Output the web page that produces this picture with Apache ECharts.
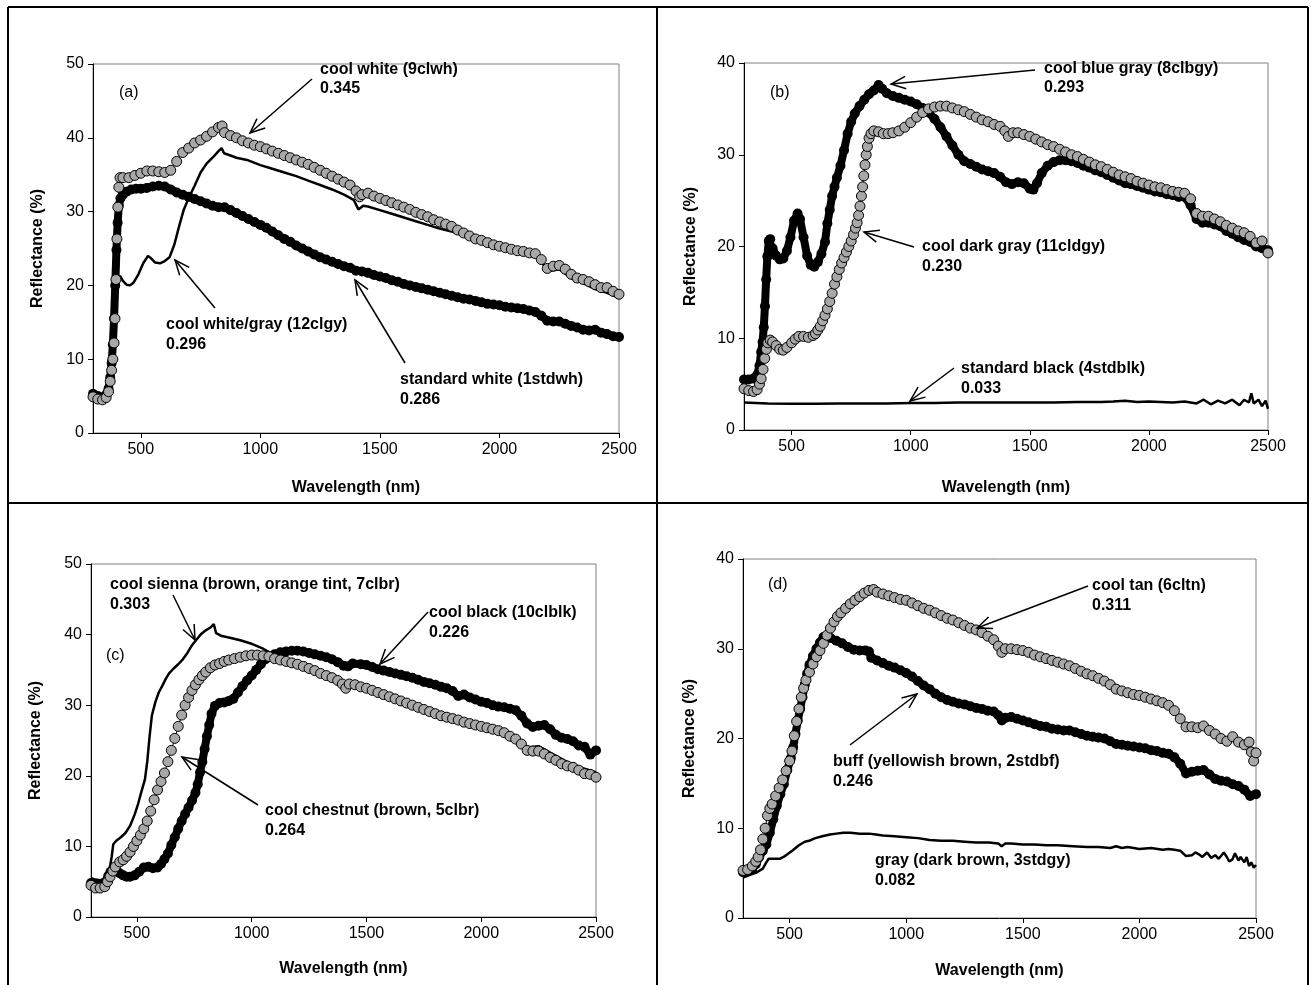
<!DOCTYPE html>
<html>
<head>
<meta charset="utf-8">
<script src="https://cdn.jsdelivr.net/npm/echarts@6/dist/echarts.min.js"></script>
<style>
  html, body { margin: 0; padding: 0; background: #fff; }
  #chart { width: 1311px; height: 985px; }
</style>
</head>
<body>
<div id="chart"></div>
<script>
// tick labels
var xTicks = [500, 1000, 1500, 2000, 2500];

// (a) white panel
var coolWhite = [[300,4.9],[320,4.6],[340,4.5],[355,4.8],[365,5.6],[372,7.0],[378,8.5],[383,10.0],[388,12.2],[392,15.5],[396,20.8],[400,26.3],[404,30.6],[408,33.3],[413,34.6],[425,34.6],[450,34.6],[475,34.9],[500,35.2],[525,35.5],[550,35.5],[575,35.4],[600,35.3],[625,35.6],[650,36.8],[675,38.0],[700,38.6],[725,39.3],[750,39.7],[775,40.2],[800,40.8],[825,41.4],[840,41.6],[850,40.7],[875,40.3],[900,40.0],[925,39.6],[950,39.3],[975,39.0],[1000,38.8],[1025,38.5],[1050,38.2],[1075,37.9],[1100,37.6],[1125,37.3],[1150,37.0],[1175,36.7],[1200,36.4],[1225,36.0],[1250,35.6],[1275,35.2],[1300,34.8],[1325,34.4],[1350,34.0],[1375,33.6],[1400,32.8],[1415,32.0],[1425,32.3],[1450,32.5],[1475,32.1],[1500,31.8],[1525,31.5],[1550,31.2],[1575,30.9],[1600,30.6],[1625,30.3],[1650,29.9],[1675,29.6],[1700,29.3],[1725,28.9],[1750,28.6],[1775,28.3],[1800,28.0],[1825,27.5],[1850,27.1],[1875,26.7],[1900,26.3],[1925,26.1],[1950,25.8],[1975,25.5],[2000,25.3],[2025,25.1],[2050,24.9],[2075,24.7],[2100,24.6],[2125,24.4],[2150,24.3],[2175,23.5],[2200,22.3],[2225,22.6],[2250,22.7],[2275,22.2],[2300,21.5],[2325,21.0],[2350,20.8],[2375,20.5],[2400,20.1],[2425,19.7],[2450,19.7],[2475,19.2],[2500,18.8]];
var coolWhiteGray = [[300,5.6],[320,5.2],[340,5.0],[355,5.3],[365,6.3],[375,9.0],[382,11.8],[388,15.5],[393,19.5],[398,20.5],[405,21.0],[413,21.3],[425,20.6],[440,20.1],[455,20.0],[470,20.4],[490,21.5],[510,23.0],[530,24.0],[545,23.6],[560,23.1],[580,23.0],[600,23.3],[620,23.8],[640,25.5],[660,28.0],[680,30.3],[700,31.8],[725,33.5],[750,35.3],[775,36.5],[800,37.3],[825,38.2],[838,38.6],[848,37.9],[875,37.6],[900,37.3],[944,37.0],[1000,36.3],[1050,35.8],[1100,35.3],[1150,34.8],[1200,34.2],[1250,33.6],[1300,33.0],[1350,32.3],[1390,31.6],[1410,30.3],[1430,30.8],[1450,30.7],[1500,30.2],[1550,29.7],[1600,29.2],[1650,28.7],[1700,28.2],[1750,27.7],[1800,27.3],[1850,26.9],[1900,26.2],[1950,25.7],[2000,25.2],[2050,24.8],[2100,24.4],[2150,24.0],[2180,23.0],[2200,21.9],[2250,22.2],[2300,21.0],[2350,20.3],[2400,19.5],[2450,19.0],[2500,18.3]];
var standardWhite = [[300,5.3],[320,5.0],[340,4.8],[355,5.2],[365,6.0],[372,7.5],[378,9.5],[383,12.0],[388,15.5],[393,20.0],[398,24.8],[403,28.5],[408,30.8],[415,31.8],[425,32.3],[440,32.7],[460,33.0],[480,33.1],[500,33.1],[525,33.2],[550,33.4],[575,33.5],[600,33.4],[625,33.0],[650,32.6],[675,32.3],[700,32.0],[725,31.7],[750,31.4],[775,31.1],[800,30.8],[825,30.6],[850,30.6],[875,30.2],[900,29.8],[925,29.4],[950,29.0],[975,28.6],[1000,28.2],[1025,27.8],[1050,27.3],[1075,26.8],[1100,26.3],[1125,25.9],[1150,25.4],[1175,25.0],[1200,24.6],[1225,24.2],[1250,23.8],[1275,23.5],[1300,23.2],[1325,22.9],[1350,22.6],[1375,22.4],[1400,22.0],[1425,21.9],[1450,21.7],[1475,21.4],[1500,21.2],[1525,21.0],[1550,20.7],[1575,20.5],[1600,20.2],[1625,20.0],[1650,19.8],[1675,19.6],[1700,19.4],[1725,19.2],[1750,19.0],[1775,18.8],[1800,18.6],[1825,18.4],[1850,18.2],[1875,18.1],[1900,17.9],[1925,17.7],[1950,17.5],[1975,17.4],[2000,17.3],[2025,17.1],[2050,17.0],[2075,16.9],[2100,16.8],[2125,16.6],[2150,16.4],[2175,15.9],[2200,15.2],[2225,15.1],[2250,15.1],[2275,14.8],[2300,14.5],[2325,14.3],[2350,14.0],[2375,13.9],[2400,14.0],[2425,13.6],[2450,13.4],[2475,13.1],[2500,13.0]];

// (b) gray / black panel
var coolBlueGray = [[300,5.5],[320,5.5],[340,5.6],[355,6.0],[365,7.0],[372,8.5],[378,9.6],[383,11.2],[388,13.5],[393,16.4],[398,18.9],[404,20.6],[410,20.8],[420,19.8],[435,19.0],[450,18.6],[465,18.7],[480,19.5],[495,21.0],[510,22.8],[525,23.6],[535,23.0],[550,21.0],[565,19.0],[580,18.0],[595,17.8],[610,18.3],[625,19.2],[640,20.5],[650,22.5],[660,24.0],[670,25.5],[680,26.5],[690,27.5],[705,28.8],[720,30.5],[735,32.3],[750,33.6],[765,34.5],[785,35.3],[805,36.0],[825,36.6],[845,37.0],[865,37.6],[880,37.2],[900,36.7],[925,36.4],[950,36.2],[975,36.0],[1000,35.8],[1025,35.5],[1050,35.1],[1075,34.6],[1100,33.9],[1125,33.0],[1150,32.0],[1175,31.0],[1200,30.0],[1225,29.3],[1250,29.0],[1275,28.7],[1300,28.4],[1325,28.2],[1350,28.0],[1375,27.6],[1400,27.0],[1425,26.8],[1450,27.0],[1475,26.9],[1500,26.3],[1515,26.2],[1530,26.9],[1550,28.0],[1575,28.8],[1600,29.2],[1625,29.4],[1650,29.4],[1675,29.3],[1700,29.1],[1725,28.8],[1750,28.6],[1775,28.3],[1800,28.1],[1825,27.8],[1850,27.5],[1875,27.2],[1900,26.9],[1925,26.8],[1950,26.6],[1975,26.4],[2000,26.2],[2025,26.0],[2050,25.9],[2075,25.7],[2100,25.6],[2125,25.4],[2150,25.4],[2175,24.5],[2200,23.0],[2225,22.6],[2250,22.6],[2275,22.4],[2300,22.2],[2325,21.7],[2350,21.4],[2375,21.0],[2400,20.7],[2425,20.5],[2450,20.0],[2475,19.8],[2500,19.6]];
var coolDarkGray = [[300,4.5],[320,4.3],[340,4.2],[355,4.4],[365,5.0],[372,5.6],[380,6.6],[387,7.8],[394,8.8],[400,9.5],[410,9.8],[420,9.6],[435,9.2],[450,8.8],[465,8.7],[480,9.0],[500,9.5],[515,9.9],[530,10.2],[550,10.2],[570,10.1],[590,10.3],[600,10.5],[610,10.9],[620,11.3],[630,11.9],[640,12.5],[650,13.2],[660,14.0],[670,14.9],[680,15.9],[690,16.7],[700,17.5],[710,18.2],[720,18.8],[730,19.4],[740,20.0],[750,20.6],[760,21.3],[768,22.0],[775,22.6],[781,23.4],[787,24.4],[793,25.5],[798,26.5],[803,27.7],[808,28.9],[813,30.0],[818,30.9],[825,31.8],[833,32.3],[845,32.6],[865,32.5],[885,32.3],[905,32.3],[925,32.4],[950,32.6],[975,33.0],[1000,33.5],[1025,34.1],[1050,34.6],[1075,35.0],[1100,35.2],[1125,35.3],[1150,35.3],[1175,35.1],[1200,34.9],[1225,34.7],[1250,34.4],[1275,34.1],[1300,33.8],[1325,33.6],[1350,33.3],[1375,33.1],[1395,32.6],[1410,32.0],[1430,32.4],[1450,32.4],[1475,32.2],[1500,32.0],[1525,31.7],[1550,31.4],[1575,31.1],[1600,30.9],[1625,30.6],[1650,30.3],[1675,30.0],[1700,29.8],[1725,29.5],[1750,29.2],[1775,28.9],[1800,28.7],[1825,28.4],[1850,28.1],[1875,27.8],[1900,27.6],[1925,27.4],[1950,27.1],[1975,26.9],[2000,26.7],[2025,26.5],[2050,26.4],[2075,26.2],[2100,26.0],[2125,25.9],[2150,25.8],[2175,25.2],[2200,23.6],[2225,23.3],[2250,23.3],[2275,23.0],[2300,22.7],[2325,22.3],[2350,22.0],[2375,21.7],[2400,21.5],[2425,21.1],[2450,20.4],[2475,20.6],[2500,19.3]];
var standardBlack = [[300,3.0],[400,2.9],[500,2.85],[600,2.85],[700,2.9],[800,2.9],[900,2.9],[1000,2.95],[1100,2.95],[1200,3.0],[1300,3.0],[1400,3.0],[1500,3.0],[1600,3.0],[1700,3.05],[1800,3.05],[1850,3.1],[1900,3.2],[1950,3.05],[2000,3.1],[2050,3.05],[2100,3.0],[2150,3.1],[2200,2.9],[2230,3.3],[2260,2.8],[2290,3.2],[2320,2.9],[2350,3.3],[2380,2.7],[2400,3.3],[2420,3.0],[2430,4.0],[2440,2.9],[2460,3.3],[2475,2.6],[2490,3.2],[2500,2.3]];

// (c) brown panel
var coolSienna = [[300,5.5],[320,5.3],[340,5.2],[355,5.3],[370,6.0],[382,7.0],[390,8.5],[397,10.3],[410,10.8],[430,11.3],[450,11.9],[470,12.9],[490,14.5],[505,16.0],[520,17.8],[535,19.5],[545,22.0],[555,25.5],[565,28.5],[580,30.4],[595,31.8],[610,32.7],[625,33.7],[640,34.5],[660,35.2],[680,35.8],[700,36.5],[720,37.4],[740,38.5],[760,39.3],[780,40.1],[800,40.6],[820,41.0],[835,41.5],[845,40.2],[870,39.8],[900,39.6],[950,39.2],[1000,38.7],[1050,38.0],[1100,37.1],[1150,36.4],[1200,35.8],[1250,35.1],[1300,34.4],[1350,33.8],[1390,33.2],[1410,32.6],[1430,33.2],[1500,32.6],[1550,32.0],[1600,31.4],[1650,30.9],[1700,30.3],[1750,29.7],[1800,29.1],[1850,28.5],[1900,28.0],[1950,27.6],[2000,27.1],[2050,26.7],[2100,26.1],[2150,25.3],[2200,24.0],[2250,24.2],[2300,23.3],[2350,22.4],[2400,21.5],[2450,21.0],[2500,20.5]];
var coolChestnut = [[300,4.5],[320,4.1],[340,4.1],[360,4.3],[372,5.0],[383,5.7],[395,6.5],[406,7.1],[425,7.8],[440,8.1],[455,8.6],[470,9.2],[485,10.0],[500,10.8],[515,11.6],[530,12.5],[545,13.6],[560,15.0],[575,16.6],[590,18.0],[605,19.2],[620,20.4],[635,22.0],[650,23.6],[665,25.3],[680,27.0],[695,28.6],[710,30.0],[725,31.1],[740,32.1],[755,32.9],[770,33.6],[785,34.2],[800,34.7],[820,35.3],[840,35.7],[860,35.9],[880,36.2],[900,36.4],[925,36.6],[950,36.8],[975,37.0],[1000,37.1],[1025,37.1],[1050,37.0],[1075,36.9],[1100,36.6],[1125,36.4],[1150,36.2],[1175,36.0],[1200,35.8],[1225,35.5],[1250,35.2],[1275,34.9],[1300,34.5],[1325,34.2],[1350,33.9],[1375,33.5],[1395,33.0],[1410,32.4],[1425,33.0],[1450,32.9],[1475,32.6],[1500,32.4],[1525,32.1],[1550,31.8],[1575,31.5],[1600,31.2],[1625,30.9],[1650,30.6],[1675,30.3],[1700,30.0],[1725,29.7],[1750,29.4],[1775,29.1],[1800,28.8],[1825,28.5],[1850,28.3],[1875,28.1],[1900,27.9],[1925,27.6],[1950,27.4],[1975,27.2],[2000,27.0],[2025,26.8],[2050,26.6],[2075,26.4],[2100,26.1],[2125,25.6],[2150,25.2],[2175,24.5],[2200,23.6],[2225,23.5],[2250,23.5],[2275,23.1],[2300,22.6],[2325,22.2],[2350,21.7],[2375,21.4],[2400,21.2],[2425,20.8],[2450,20.3],[2475,20.2],[2500,19.8]];
var coolBlack = [[300,4.8],[320,4.6],[340,4.6],[360,4.9],[375,5.8],[385,6.4],[397,6.7],[410,6.5],[425,6.2],[440,5.9],[455,5.7],[470,5.7],[490,5.9],[510,6.4],[530,7.0],[550,7.1],[570,6.9],[590,7.0],[605,7.5],[620,8.2],[635,9.0],[650,10.2],[665,11.3],[680,12.5],[695,13.6],[710,14.6],[725,15.5],[740,16.5],[755,17.6],[765,18.8],[775,20.5],[785,22.0],[795,23.8],[805,25.6],[815,27.2],[825,28.8],[840,29.9],[860,30.3],[880,30.4],[900,30.6],[920,30.9],[940,31.8],[960,32.7],[980,33.5],[1000,34.2],[1020,35.0],[1040,35.8],[1060,36.5],[1080,36.9],[1100,37.2],[1125,37.5],[1150,37.6],[1175,37.7],[1200,37.7],[1225,37.6],[1250,37.4],[1275,37.2],[1300,37.0],[1325,36.8],[1350,36.5],[1375,36.1],[1400,35.6],[1420,35.5],[1440,35.9],[1475,35.8],[1500,35.7],[1525,35.4],[1550,35.1],[1575,34.9],[1600,34.7],[1625,34.5],[1650,34.3],[1675,34.1],[1700,33.9],[1725,33.6],[1750,33.3],[1775,33.1],[1800,32.9],[1825,32.6],[1850,32.4],[1875,32.0],[1900,31.3],[1925,31.5],[1950,31.1],[1975,30.8],[2000,30.5],[2025,30.3],[2050,30.0],[2075,29.8],[2100,29.7],[2125,29.5],[2150,29.3],[2175,28.5],[2200,27.4],[2225,26.9],[2250,27.1],[2275,27.2],[2300,26.6],[2325,25.8],[2350,25.4],[2375,25.2],[2400,24.9],[2425,24.3],[2450,24.1],[2475,23.0],[2500,23.6]];

// (d) tan / buff panel
var coolTan = [[300,5.3],[320,5.4],[340,5.8],[355,6.3],[365,6.8],[375,7.6],[385,8.8],[395,10.0],[405,11.4],[415,12.2],[425,12.7],[440,13.6],[455,14.5],[470,15.4],[485,16.4],[500,17.5],[510,18.6],[520,20.3],[530,21.9],[540,23.3],[550,24.6],[560,25.6],[570,26.5],[585,27.4],[600,28.3],[615,29.1],[630,29.8],[645,30.6],[660,31.5],[675,32.3],[690,33.0],[705,33.6],[720,34.0],[740,34.5],[760,35.0],[780,35.4],[800,35.8],[820,36.2],[840,36.5],[860,36.6],[875,36.3],[900,36.1],[925,35.9],[950,35.7],[975,35.5],[1000,35.4],[1025,35.1],[1050,34.8],[1075,34.5],[1100,34.3],[1125,34.0],[1150,33.7],[1175,33.4],[1200,33.2],[1225,32.9],[1250,32.6],[1275,32.3],[1300,32.1],[1325,31.8],[1350,31.4],[1375,31.0],[1395,30.3],[1410,29.6],[1425,30.0],[1450,30.0],[1475,29.9],[1500,29.8],[1525,29.6],[1550,29.3],[1575,29.1],[1600,28.9],[1625,28.7],[1650,28.5],[1675,28.3],[1700,28.1],[1725,27.8],[1750,27.5],[1775,27.2],[1800,27.0],[1825,26.7],[1850,26.4],[1875,26.0],[1900,25.5],[1925,25.3],[1950,25.1],[1975,24.9],[2000,24.8],[2025,24.6],[2050,24.4],[2075,24.2],[2100,24.0],[2125,23.7],[2150,23.1],[2175,22.2],[2200,21.3],[2225,21.3],[2250,21.2],[2275,21.4],[2300,20.9],[2325,20.5],[2350,20.0],[2375,19.7],[2400,20.2],[2425,19.6],[2450,19.3],[2470,19.6],[2480,18.5],[2490,17.5],[2500,18.4]];
var buff = [[300,5.1],[320,5.2],[340,5.5],[355,6.0],[370,6.8],[385,7.5],[400,8.2],[415,9.5],[430,11.0],[445,12.5],[460,13.8],[475,14.9],[490,16.5],[505,17.8],[515,19.0],[525,20.5],[535,22.0],[545,23.3],[555,24.6],[565,26.0],[575,27.2],[585,28.2],[600,29.2],[615,30.0],[630,30.7],[645,31.3],[660,31.4],[675,31.2],[700,30.9],[725,30.6],[750,30.2],[775,29.9],[800,29.8],[825,29.8],[840,29.7],[850,29.0],[875,28.7],[900,28.4],[925,28.1],[950,27.9],[975,27.6],[1000,27.3],[1025,26.9],[1050,26.4],[1075,25.9],[1100,25.5],[1125,25.0],[1150,24.6],[1175,24.3],[1200,24.1],[1225,23.9],[1250,23.8],[1275,23.6],[1300,23.4],[1325,23.3],[1350,23.1],[1375,23.0],[1395,22.6],[1410,22.0],[1425,22.3],[1450,22.4],[1475,22.2],[1500,22.0],[1525,21.8],[1550,21.6],[1575,21.4],[1600,21.3],[1625,21.1],[1650,21.0],[1675,20.9],[1700,20.9],[1725,20.7],[1750,20.5],[1775,20.3],[1800,20.2],[1825,20.1],[1850,20.0],[1875,19.7],[1900,19.4],[1925,19.3],[1950,19.2],[1975,19.1],[2000,19.0],[2025,18.9],[2050,18.7],[2075,18.6],[2100,18.4],[2125,18.3],[2150,17.9],[2175,17.2],[2200,16.1],[2225,16.3],[2250,16.4],[2275,16.5],[2300,16.0],[2325,15.5],[2350,15.3],[2375,15.2],[2400,14.9],[2425,14.7],[2450,14.3],[2475,13.6],[2500,13.8]];
var grayBrown = [[300,4.5],[330,4.8],[360,5.1],[385,5.5],[400,6.2],[410,6.6],[430,6.6],[457,6.6],[480,6.9],[511,7.5],[540,8.1],[565,8.5],[583,8.6],[610,8.9],[640,9.1],[673,9.3],[700,9.4],[730,9.5],[762,9.5],[800,9.4],[840,9.4],[870,9.3],[900,9.2],[950,9.1],[1000,9.0],[1050,8.9],[1100,8.7],[1150,8.6],[1200,8.6],[1250,8.5],[1300,8.4],[1355,8.4],[1395,8.3],[1409,8.0],[1425,8.3],[1450,8.3],[1500,8.2],[1550,8.2],[1600,8.1],[1650,8.1],[1715,8.0],[1775,7.9],[1825,7.9],[1875,7.8],[1900,8.0],[1925,7.8],[1950,7.9],[2000,7.7],[2050,7.8],[2100,7.6],[2125,7.7],[2150,7.6],[2175,7.5],[2200,6.9],[2225,7.0],[2240,7.3],[2255,7.1],[2270,6.8],[2290,7.3],[2308,6.7],[2325,7.0],[2340,6.6],[2362,7.3],[2375,6.8],[2385,6.3],[2398,6.5],[2410,7.2],[2425,6.4],[2434,6.8],[2450,6.2],[2460,6.8],[2470,5.8],[2480,6.2],[2490,5.6],[2500,5.9]];

var FONT = 'Liberation Sans, Arial, sans-serif';
var chart = echarts.init(document.getElementById('chart'));

var grids = [
  { left: 93, top: 64, width: 526, height: 369 },
  { left: 744, top: 63, width: 524, height: 367 },
  { left: 91, top: 564, width: 505, height: 353 },
  { left: 743, top: 559, width: 513, height: 359 }
];
var yMax = [50, 40, 50, 40];
var xNameGap = [47, 50, 44, 45];
var yNameGap = [47, 45, 47, 45];

function makeX(i) {
  return {
    type: 'value', gridIndex: i, min: 300, max: 2500,
    axisLine: { lineStyle: { color: '#000', width: 1 } },
    axisTick: { customValues: xTicks, length: 5, lineStyle: { color: '#000' } },
    axisLabel: { customValues: xTicks, color: '#000', fontSize: 16, fontFamily: FONT, margin: 9,
      formatter: function (v) { return String(v); } },
    splitLine: { show: false },
    name: 'Wavelength (nm)', nameLocation: 'middle', nameGap: xNameGap[i],
    nameTextStyle: { color: '#000', fontSize: 16, fontWeight: 'bold', fontFamily: FONT }
  };
}
function makeY(i) {
  return {
    type: 'value', gridIndex: i, min: 0, max: yMax[i], interval: 10,
    axisLine: { show: true, lineStyle: { color: '#000', width: 1 } },
    axisTick: { show: true, length: 5, lineStyle: { color: '#000' } },
    axisLabel: { color: '#000', fontSize: 16, fontFamily: FONT, margin: 9 },
    splitLine: { show: false },
    name: 'Reflectance (%)', nameLocation: 'middle', nameGap: yNameGap[i], nameRotate: 90,
    nameTextStyle: { color: '#000', fontSize: 16, fontWeight: 'bold', fontFamily: FONT }
  };
}

function openDots(i, data) {
  return { type: 'line', xAxisIndex: i, yAxisIndex: i, data: data, clip: false, silent: true,
    symbol: 'circle', symbolSize: 10, showAllSymbol: true,
    lineStyle: { color: '#000', width: 1 },
    itemStyle: { color: '#a8a8a8', borderColor: '#000', borderWidth: 1 } };
}
function filledDots(i, data) {
  return { type: 'line', xAxisIndex: i, yAxisIndex: i, data: data, clip: false, silent: true,
    symbol: 'circle', symbolSize: 10, showAllSymbol: true,
    lineStyle: { color: '#000', width: 8 },
    itemStyle: { color: '#000' } };
}
function solid(i, data) {
  return { type: 'line', xAxisIndex: i, yAxisIndex: i, data: data, clip: false, silent: true,
    symbol: 'none', lineStyle: { color: '#000', width: 2.5 } };
}

// annotation text, [x, y, text, bold]
var labels = [
  [119, 93, '(a)', false],
  [320, 70, 'cool white (9clwh)', true], [320, 89, '0.345', true],
  [166, 325, 'cool white/gray (12clgy)', true], [166, 345, '0.296', true],
  [400, 380, 'standard white (1stdwh)', true], [400, 400, '0.286', true],
  [770, 93, '(b)', false],
  [1044, 69, 'cool blue gray (8clbgy)', true], [1044, 88, '0.293', true],
  [922, 247, 'cool dark gray (11cldgy)', true], [922, 267, '0.230', true],
  [961, 369, 'standard black (4stdblk)', true], [961, 389, '0.033', true],
  [110, 585, 'cool sienna (brown, orange tint, 7clbr)', true], [110, 605, '0.303', true],
  [429, 613, 'cool black (10clblk)', true], [429, 633, '0.226', true],
  [106, 656, '(c)', false],
  [265, 811, 'cool chestnut (brown, 5clbr)', true], [265, 831, '0.264', true],
  [768, 585, '(d)', false],
  [1092, 586, 'cool tan (6cltn)', true], [1092, 606, '0.311', true],
  [833, 762, 'buff (yellowish brown, 2stdbf)', true], [833, 782, '0.246', true],
  [875, 861, 'gray (dark brown, 3stdgy)', true], [875, 881, '0.082', true]
];
// arrows, [fromX, fromY, tipX, tipY]
var arrows = [
  [312, 79, 250, 133], [215, 308, 175, 260], [405, 363, 355, 280],
  [1035, 70, 891, 84], [914, 247, 864, 232], [954, 368, 910, 401],
  [173, 595, 195, 640], [428, 612, 380, 664], [258, 805, 182, 757],
  [1088, 586, 977, 628], [850, 745, 917, 694]
];

var graphics = [];
// panel frame
[[8, 7, 1308, 7], [8, 7, 8, 990], [1308, 7, 1308, 990], [657, 7, 657, 990], [8, 503, 1308, 503]].forEach(function (l) {
  graphics.push({ type: 'line', z: 100, shape: { x1: l[0], y1: l[1], x2: l[2], y2: l[3] }, style: { stroke: '#000', lineWidth: 2 } });
});
labels.forEach(function (t) {
  graphics.push({ type: 'text', z: 100, x: t[0], y: t[1],
    style: { text: t[2], fill: '#000', fontSize: 16, fontWeight: t[3] ? 'bold' : 'normal', fontFamily: FONT, verticalAlign: 'middle', align: 'left' } });
});
arrows.forEach(function (a) {
  var ang = Math.atan2(a[1] - a[3], a[0] - a[2]), L = 16, s = 0.4;
  graphics.push({ type: 'line', z: 100, shape: { x1: a[0], y1: a[1], x2: a[2], y2: a[3] }, style: { stroke: '#000', lineWidth: 1.5 } });
  graphics.push({ type: 'polyline', z: 100, shape: { points: [
      [a[2] + L * Math.cos(ang + s), a[3] + L * Math.sin(ang + s)], [a[2], a[3]],
      [a[2] + L * Math.cos(ang - s), a[3] + L * Math.sin(ang - s)]] },
    style: { stroke: '#000', lineWidth: 1.5, fill: null } });
});

chart.setOption({
  animation: false,
  backgroundColor: '#fff',
  grid: grids.map(function (g) {
    return { left: g.left, top: g.top, width: g.width, height: g.height, show: true, borderColor: '#808080', borderWidth: 1 };
  }),
  xAxis: [0, 1, 2, 3].map(makeX),
  yAxis: [0, 1, 2, 3].map(makeY),
  series: [
    solid(0, coolWhiteGray),
    filledDots(0, standardWhite),
    openDots(0, coolWhite),
    solid(1, standardBlack),
    filledDots(1, coolBlueGray),
    openDots(1, coolDarkGray),
    filledDots(2, coolBlack),
    openDots(2, coolChestnut),
    solid(2, coolSienna),
    solid(3, grayBrown),
    filledDots(3, buff),
    openDots(3, coolTan)
  ],
  graphic: graphics
});
</script>
</body>
</html>
